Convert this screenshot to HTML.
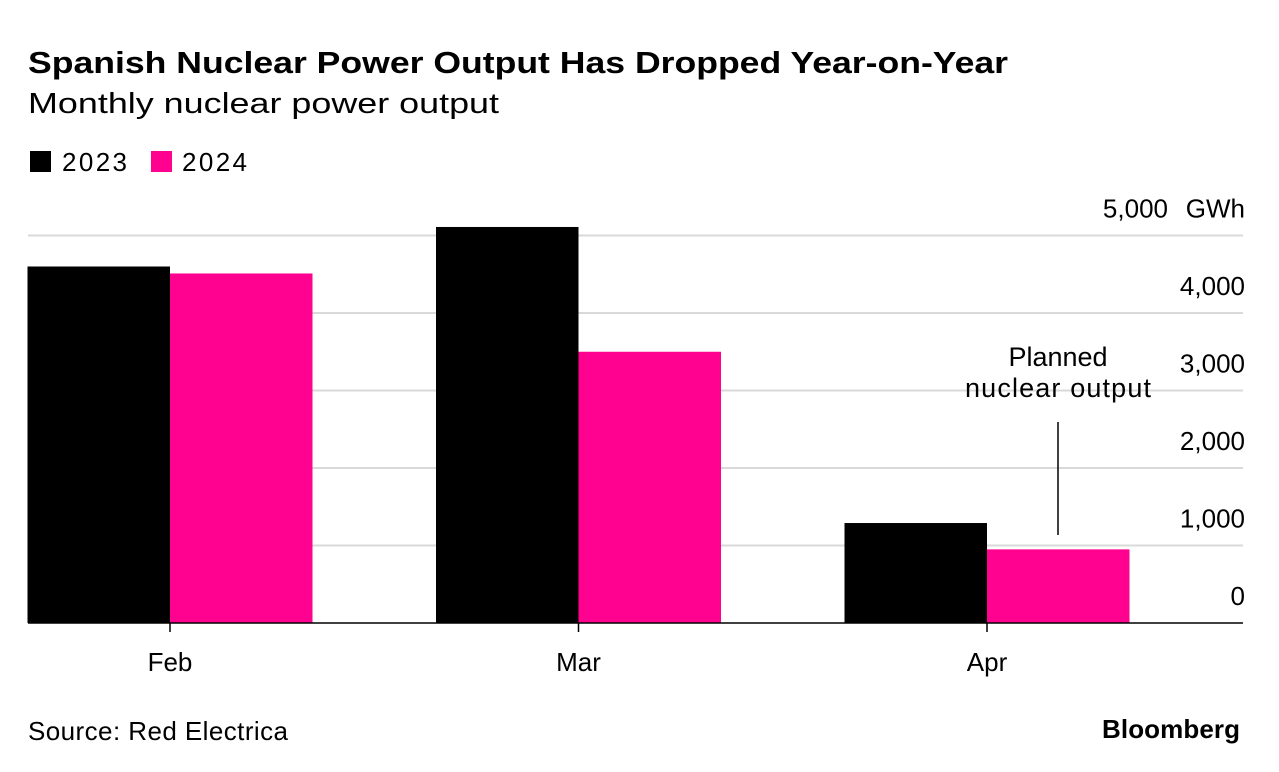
<!DOCTYPE html>
<html><head><meta charset="utf-8"><style>
body{margin:0;background:#fff;font-family:"Liberation Sans",Arial,sans-serif;}
svg{display:block}
</style></head><body>
<svg width="1279" height="772" xmlns="http://www.w3.org/2000/svg">
<text x="28" y="73" font-size="31" font-weight="bold" fill="#000" textLength="980" lengthAdjust="spacingAndGlyphs">Spanish Nuclear Power Output Has Dropped Year-on-Year</text>
<text x="28" y="113" font-size="29" fill="#000" textLength="471" lengthAdjust="spacingAndGlyphs">Monthly nuclear power output</text>
<g>
<rect x="30" y="151" width="21" height="21" fill="#000"/>
<text x="62" y="171" font-size="26" textLength="65">2023</text>
<rect x="151" y="151" width="21" height="21" fill="#ff0290"/>
<text x="182" y="171" font-size="26" textLength="65">2024</text>
</g>
<g id="plot"></g>
<g>
<text x="1058" y="366" font-size="27" text-anchor="middle">Planned</text>
<text x="1058" y="397" font-size="27" text-anchor="middle" textLength="186">nuclear output</text>
<line x1="1058" y1="422" x2="1058" y2="535" stroke="#000" stroke-width="1.5"/>
</g>
<text x="28" y="740" font-size="26" textLength="260">Source: Red Electrica</text>
<text x="1240" y="738" font-size="26" font-weight="bold" text-anchor="end" textLength="138">Bloomberg</text>
</svg>
<script>
const categories=["Feb","Mar","Apr"];
const values2023=[4600,5110,1290];
const values2024=[4510,3500,950];
const ticks=[0,1000,2000,3000,4000,5000];
const tickLabels=["0","1,000","2,000","3,000","4,000","5,000"];
const ns="http://www.w3.org/2000/svg";
const g=document.getElementById("plot");
const y0=623, pxPer=77.5/1000;
const y=v=>y0-v*pxPer;
const cx=i=>170+i*408.5;
const bw=142.5;
function mk(t,a){const e=document.createElementNS(ns,t);for(const k in a)e.setAttribute(k,a[k]);g.appendChild(e);return e;}
ticks.forEach((t,i)=>{
 if(t>0){const l=mk("line",{x1:28,x2:1243,y1:y(t),y2:y(t),stroke:"#d9d9d9","stroke-width":2});
 
 }
 const tx=mk("text",{x:t===5000?1168:1245,y:y(t)-18,"font-size":26,"text-anchor":"end"});
 tx.textContent=tickLabels[i];
 
 
 if(t===5000){const u=mk("text",{x:1245,y:y(t)-18,"font-size":26,"text-anchor":"end"});u.textContent="GWh";
 
 }
});
categories.forEach((c,i)=>{
 const a=mk("rect",{x:cx(i)-bw,y:y(values2023[i]),width:bw,height:y0-y(values2023[i]),fill:"#000"});
 
 
 const b=mk("rect",{x:cx(i),y:y(values2024[i]),width:bw,height:y0-y(values2024[i]),fill:"#ff0290"});
 
 
 const tk=mk("line",{x1:cx(i),x2:cx(i),y1:y0,y2:y0+9,stroke:"#000","stroke-width":1.5});
 
 
 const tl=mk("text",{x:cx(i),y:671,"font-size":26,"text-anchor":"middle"});
 tl.textContent=c;
 
 
});
const ax=mk("line",{x1:28,x2:1243,y1:y0,y2:y0,stroke:"#000","stroke-width":1.5});


</script>
</body></html>
